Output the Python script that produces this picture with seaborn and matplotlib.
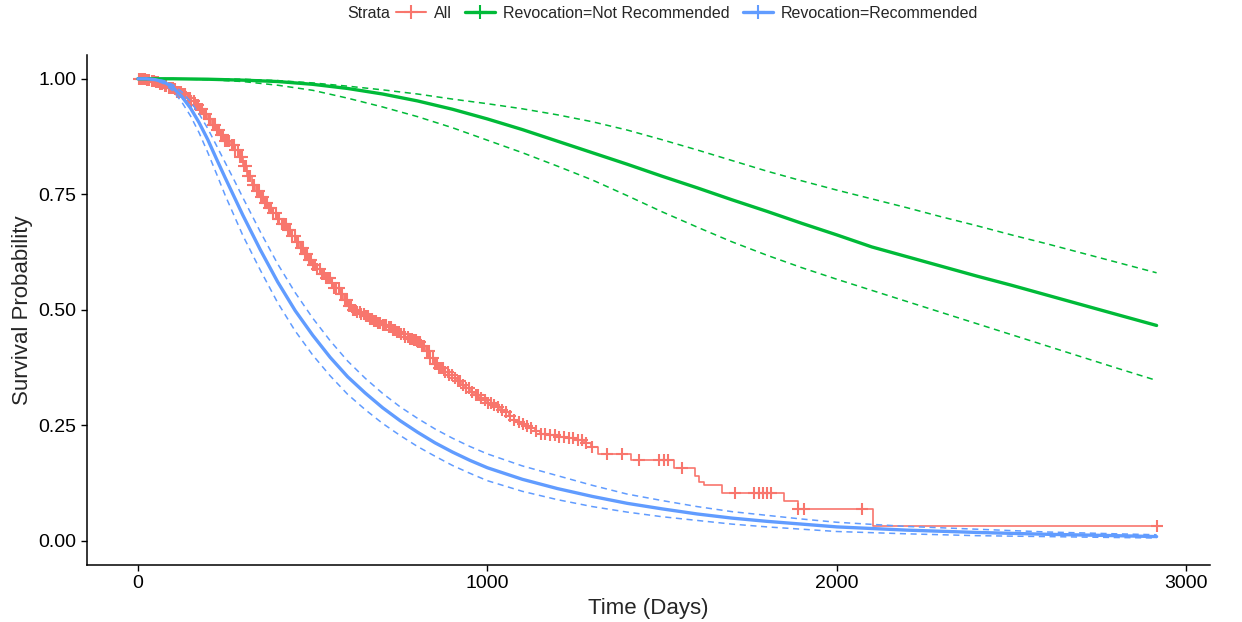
import matplotlib

matplotlib.use("Agg")
import matplotlib.pyplot as plt
import numpy as np
import seaborn as sns
from matplotlib.lines import Line2D

RED = "#F8766D"
GREEN = "#00BA38"
BLUE = "#619CFF"

# Kaplan-Meier estimate, all subjects (step function)
km_time = [0, 12, 25, 37, 50, 62, 75, 87, 100, 112, 125, 137, 150, 162, 175, 187, 200, 212,
           225, 237, 250, 262, 275, 287, 300, 312, 325, 337, 350, 362, 375, 387, 400, 412,
           425, 437, 450, 462, 475, 487, 500, 512, 525, 537, 550, 562, 575, 587, 600, 612,
           625, 637, 650, 662, 675, 687, 700, 712, 725, 737, 750, 762, 775, 787, 800, 812,
           825, 837, 850, 862, 875, 887, 900, 912, 925, 937, 950, 962, 975, 987, 1000, 1012,
           1025, 1037, 1050, 1062, 1075, 1087, 1100, 1112, 1125, 1137, 1150, 1175, 1200,
           1225, 1250, 1275, 1297, 1316, 1411, 1533, 1595, 1605, 1620, 1672, 1850, 1888,
           2104, 2915]
km_surv = [1.0, 0.999, 0.997, 0.995, 0.993, 0.989, 0.985, 0.981, 0.977, 0.972, 0.966, 0.959,
           0.952, 0.944, 0.935, 0.924, 0.912, 0.900, 0.889, 0.878, 0.866, 0.856, 0.845, 0.830,
           0.812, 0.789, 0.770, 0.757, 0.745, 0.732, 0.720, 0.709, 0.697, 0.685, 0.672, 0.659,
           0.646, 0.633, 0.620, 0.608, 0.597, 0.588, 0.578, 0.568, 0.558, 0.547, 0.535, 0.521,
           0.508, 0.500, 0.495, 0.490, 0.486, 0.481, 0.476, 0.471, 0.466, 0.462, 0.457, 0.452,
           0.448, 0.442, 0.437, 0.434, 0.430, 0.421, 0.410, 0.396, 0.383, 0.374, 0.366, 0.359,
           0.352, 0.345, 0.337, 0.330, 0.323, 0.316, 0.310, 0.304, 0.298, 0.294, 0.289, 0.284,
           0.278, 0.270, 0.262, 0.257, 0.252, 0.248, 0.243, 0.237, 0.232, 0.228, 0.225, 0.222,
           0.218, 0.212, 0.202, 0.188, 0.175, 0.157, 0.140, 0.128, 0.120, 0.104, 0.085, 0.069,
           0.033, 0.033]

censor_times = [3, 9, 14, 21, 27, 33, 40, 45, 52, 58, 63, 70, 76, 81, 88, 94, 99, 106, 112,
                117, 124, 130, 135, 142, 148, 153, 160, 166, 171, 178, 184, 189, 196, 202, 207,
                214, 220, 225, 232, 238, 243, 250, 256, 261, 268, 274, 279, 286, 292, 297, 304,
                310, 315, 322, 328, 333, 340, 346, 351, 358, 364, 369, 376, 382, 387, 394, 400,
                405, 412, 418, 423, 430, 436, 441, 448, 454, 459, 466, 472, 477, 484, 490, 495,
                502, 508, 513, 520, 526, 531, 538, 544, 549, 556, 562, 567, 574, 580, 585, 592,
                598, 603, 610, 616, 621, 628, 634, 639, 646, 652, 657, 664, 670, 675, 682, 688,
                693, 700, 706, 711, 718, 724, 729, 736, 742, 747, 754, 760, 765, 772, 778, 783,
                790, 796, 801, 808, 814, 819, 826, 832, 837, 844, 850, 855, 862, 868, 873, 880,
                886, 891, 898, 906, 915, 923, 931, 940, 948, 957, 966, 974, 983, 992, 1001, 1010,
                1020, 1031, 1043, 1052, 1064, 1077, 1090, 1101, 1113, 1126, 1140, 1152, 1166,
                1180, 1193, 1206, 1220, 1233, 1245, 1258, 1270, 1282, 1300, 1342, 1386, 1435,
                1492, 1504, 1517, 1556, 1709, 1764, 1776, 1788, 1800, 1812, 1889, 1907, 2071,
                2915]

# parametric fit, Revocation = Not Recommended
green_time = [0, 100, 200, 300, 400, 500, 600, 700, 800, 900, 1000, 1100, 1200, 1300, 1400,
              1500, 1600, 1700, 1800, 1900, 2000, 2100, 2200, 2300, 2400, 2500, 2600, 2700,
              2800, 2915]
green_surv = [1.0, 1.0, 0.999, 0.997, 0.994, 0.988, 0.979, 0.967, 0.952, 0.934, 0.913, 0.890,
              0.865, 0.840, 0.815, 0.789, 0.764, 0.738, 0.713, 0.687, 0.662, 0.636, 0.615,
              0.594, 0.573, 0.553, 0.532, 0.511, 0.490, 0.466]
green_upper = [1.0, 1.0, 1.0, 0.999, 0.996, 0.991, 0.984, 0.976, 0.967, 0.956, 0.946, 0.935,
               0.922, 0.907, 0.889, 0.868, 0.846, 0.823, 0.800, 0.779, 0.759, 0.740, 0.721,
               0.701, 0.682, 0.662, 0.643, 0.623, 0.603, 0.580]
green_lower = [1.0, 1.0, 0.998, 0.994, 0.986, 0.975, 0.958, 0.939, 0.918, 0.894, 0.867, 0.840,
               0.811, 0.781, 0.747, 0.712, 0.679, 0.647, 0.618, 0.591, 0.566, 0.542, 0.518,
               0.494, 0.470, 0.446, 0.422, 0.398, 0.374, 0.347]

# parametric fit, Revocation = Recommended
blue_time = [0, 25, 50, 75, 100, 125, 150, 175, 200, 225, 250, 275, 300, 350, 400, 450, 500,
             550, 600, 650, 700, 750, 800, 850, 900, 950, 1000, 1100, 1200, 1300, 1400, 1500,
             1600, 1700, 1800, 1900, 2000, 2200, 2400, 2600, 2800, 2915]
blue_surv = [1.0, 1.0, 0.998, 0.993, 0.981, 0.962, 0.937, 0.905, 0.868, 0.826, 0.785, 0.745,
             0.705, 0.630, 0.560, 0.498, 0.445, 0.397, 0.355, 0.320, 0.288, 0.260, 0.235, 0.212,
             0.192, 0.174, 0.158, 0.133, 0.113, 0.096, 0.081, 0.069, 0.058, 0.049, 0.042, 0.036,
             0.030, 0.023, 0.018, 0.014, 0.011, 0.009]
blue_upper = [1.0, 1.0, 0.999, 0.996, 0.987, 0.972, 0.951, 0.924, 0.892, 0.855, 0.818, 0.781,
              0.743, 0.669, 0.599, 0.537, 0.482, 0.433, 0.389, 0.352, 0.319, 0.290, 0.265,
              0.242, 0.222, 0.204, 0.188, 0.162, 0.141, 0.120, 0.101, 0.087, 0.074, 0.063,
              0.055, 0.047, 0.040, 0.031, 0.025, 0.019, 0.015, 0.013]
blue_lower = [1.0, 1.0, 0.997, 0.989, 0.974, 0.950, 0.920, 0.883, 0.840, 0.794, 0.747, 0.704,
              0.661, 0.586, 0.515, 0.454, 0.402, 0.357, 0.317, 0.284, 0.254, 0.228, 0.204,
              0.183, 0.163, 0.146, 0.130, 0.107, 0.089, 0.074, 0.062, 0.052, 0.044, 0.036,
              0.030, 0.025, 0.020, 0.015, 0.011, 0.009, 0.007, 0.006]

X_TICKS = [0, 1000, 2000, 3000]
Y_TICKS = [0.0, 0.25, 0.5, 0.75, 1.0]
LEGEND_LABELS = ["All", "Revocation=Not Recommended", "Revocation=Recommended"]


def step_value(times, values, t):
    idx = np.searchsorted(times, t, side="right") - 1
    return values[idx]


def main() -> None:
    sns.set_theme(style="ticks")
    plt.rcParams["font.family"] = ["Liberation Sans", "DejaVu Sans"]

    fig = plt.figure(figsize=(12.42, 6.22), dpi=100)
    ax = fig.add_axes([0.070, 0.092, 0.904, 0.820])

    sns.lineplot(x=km_time, y=km_surv, drawstyle="steps-post", color=RED, lw=1.2,
                 estimator=None, ax=ax, zorder=2)
    censor_y = [step_value(np.array(km_time), km_surv, t) for t in censor_times]
    sns.scatterplot(x=censor_times, y=censor_y, marker="+", color=RED, s=85, linewidth=1.5,
                    ax=ax, zorder=2)

    for times, surv, upper, lower, color in [
        (green_time, green_surv, green_upper, green_lower, GREEN),
        (blue_time, blue_surv, blue_upper, blue_lower, BLUE),
    ]:
        sns.lineplot(x=times, y=surv, color=color, lw=2.4, estimator=None, ax=ax, zorder=3)
        for band in (upper, lower):
            sns.lineplot(x=times, y=band, color=color, lw=1.1, linestyle=(0, (4, 3)),
                         estimator=None, ax=ax, zorder=3)

    ax.set_xlim(-146, 3067)
    ax.set_ylim(-0.052, 1.052)
    ax.set_xticks(X_TICKS)
    ax.set_yticks(Y_TICKS)
    ax.set_yticklabels([f"{v:.2f}" for v in Y_TICKS])
    ax.tick_params(labelsize=14, length=4, width=1, color="black", labelcolor="black")
    ax.set_xlabel("Time (Days)", fontsize=16)
    ax.set_ylabel("Survival Probability", fontsize=16)
    sns.despine(ax=ax)
    for side in ("left", "bottom"):
        ax.spines[side].set_color("black")
        ax.spines[side].set_linewidth(1.1)

    handles = [
        Line2D([0], [0], color=RED, lw=1.5, marker="+", markersize=10, mew=1.5),
        Line2D([0], [0], color=GREEN, lw=2.4, marker="+", markersize=10, mew=1.5),
        Line2D([0], [0], color=BLUE, lw=2.4, marker="+", markersize=10, mew=1.5),
    ]
    fig.text(390 / 1242, 1 - 13 / 622, "Strata", ha="right", va="center", fontsize=11.5)
    fig.legend(handles, LEGEND_LABELS, loc="center left", ncol=3, frameon=False,
               bbox_to_anchor=(396 / 1242, 1 - 13 / 622), fontsize=11.5,
               handlelength=1.9, handletextpad=0.5, columnspacing=0.8,
               borderpad=0, borderaxespad=0)

    fig.savefig("out.png", dpi=100)
    plt.close(fig)


if __name__ == "__main__":
    main()
